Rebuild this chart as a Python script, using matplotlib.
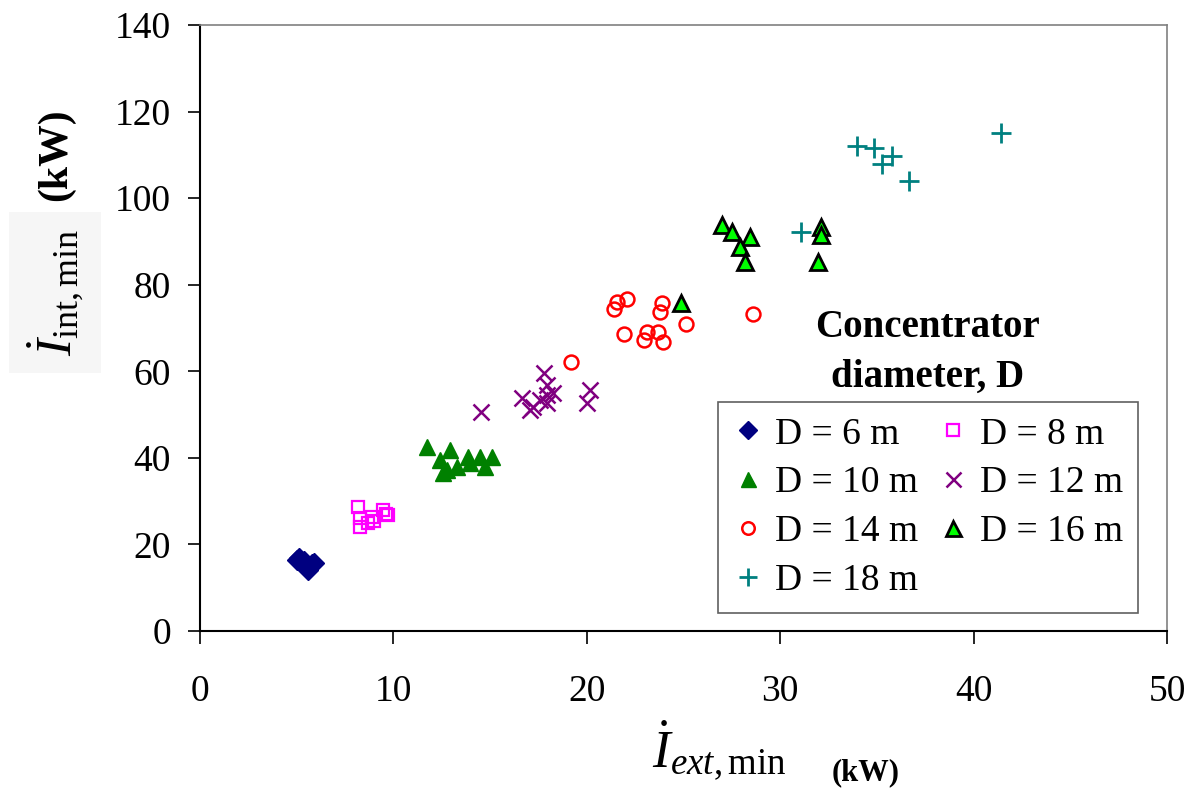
import matplotlib.pyplot as plt

plt.rcParams['font.family'] = ['Liberation Serif', 'DejaVu Serif']
plt.rcParams['mathtext.fontset'] = 'custom'
plt.rcParams['mathtext.rm'] = 'Liberation Serif'
plt.rcParams['mathtext.it'] = 'Liberation Serif:italic'
plt.rcParams['mathtext.bf'] = 'Liberation Serif:bold'

d6_x = [5.0, 5.2, 5.3, 5.5, 5.6, 5.8, 5.1, 5.4, 5.7, 5.9]
d6_y = [16.5, 16.0, 15.5, 15.0, 14.0, 15.5, 16.8, 16.2, 15.0, 15.8]

d8_x = [8.19, 8.27, 8.88, 9.48, 9.74, 8.27, 8.70, 9.0, 9.6]
d8_y = [28.7, 26.0, 26.4, 27.9, 26.8, 24.1, 24.9, 25.5, 27.0]

d10_x = [11.75, 12.93, 12.41, 13.87, 14.48, 15.08, 12.76, 13.27, 13.96, 14.74, 12.58]
d10_y = [42.4, 41.8, 39.5, 40.3, 40.3, 40.1, 37.2, 38.0, 38.7, 38.0, 36.4]

d12_x = [14.51, 16.63, 17.79, 17.93, 17.23, 17.58, 17.93, 18.27, 17.93, 17.06, 20.17, 19.99]
d12_y = [50.7, 53.8, 59.5, 56.8, 51.8, 53.4, 54.5, 54.9, 52.6, 51.1, 55.7, 52.6]

d14_x = [21.55, 22.06, 21.41, 23.89, 23.78, 21.92, 23.09, 23.70, 22.97, 23.93, 25.14, 28.61, 19.17]
d14_y = [76.1, 76.7, 74.3, 75.7, 73.8, 68.6, 69.1, 69.1, 67.2, 66.8, 70.9, 73.2, 62.1]

d16_x = [26.97, 27.49, 28.44, 27.92, 28.18, 32.09, 32.09, 31.97, 24.87]
d16_y = [93.8, 92.2, 91.1, 88.8, 85.3, 93.4, 91.5, 85.3, 75.7]

d18_x = [33.95, 34.85, 35.77, 35.25, 36.68, 41.40, 31.06]
d18_y = [112.0, 111.5, 109.7, 108.0, 104.0, 115.0, 92.1]

fig = plt.figure(figsize=(11.99, 7.97), dpi=100)
ax = fig.add_axes([200 / 1199, 1 - 631 / 797, 967 / 1199, 606 / 797])

h6, = ax.plot(d6_x, d6_y, 'D', color='#000080', ms=10, ls='none', label='D = 6 m')
h8, = ax.plot(d8_x, d8_y, 's', mfc='none', mec='#FF00FF', mew=1.6, ms=9, ls='none', label='D = 8 m')
h10, = ax.plot(d10_x, d10_y, '^', color='#008000', ms=12, ls='none', label='D = 10 m')
h12, = ax.plot(d12_x, d12_y, 'x', color='#800080', mew=1.8, ms=12, ls='none', label='D = 12 m')
h14, = ax.plot(d14_x, d14_y, 'o', mfc='none', mec='#FF0000', mew=1.8, ms=10, ls='none', label='D = 14 m')
h16, = ax.plot(d16_x, d16_y, '^', mfc='#00FF00', mec='black', mew=2, ms=12, ls='none', label='D = 16 m')
h18, = ax.plot(d18_x, d18_y, '+', color='#008080', mew=2, ms=14, ls='none', label='D = 18 m')

ax.set_xlim(0, 50)
ax.set_ylim(0, 140)
ax.set_xticks(range(0, 51, 10))
ax.set_yticks(range(0, 141, 20))
ax.tick_params(axis='both', labelsize=27, direction='out', length=9, width=1.2)
ax.tick_params(axis='x', pad=22)
ax.tick_params(axis='y', pad=12)
for s in ['left', 'bottom']:
    ax.spines[s].set_linewidth(1.5)
for s in ['top', 'right']:
    ax.spines[s].set_color('#808080')
    ax.spines[s].set_linewidth(1.2)

# Legende zeilenweise wie im Original
handles = [h6, h10, h14, h18, h8, h12, h16]
leg = ax.legend(handles=handles, ncol=2, loc='lower right', bbox_to_anchor=(0.97, 0.03),
                borderaxespad=0, fontsize=27, fancybox=False, edgecolor='#606060',
                framealpha=1, handlelength=0.8, handletextpad=0.3, columnspacing=0.55,
                labelspacing=0.38, borderpad=0.4, markerscale=0.9)
leg.get_frame().set_linewidth(1.2)

ax.text(0.752, 0.485, 'Concentrator', transform=ax.transAxes, ha='center',
        va='baseline', fontsize=28, fontweight='bold')
ax.text(0.752, 0.403, 'diameter, D', transform=ax.transAxes, ha='center',
        va='baseline', fontsize=28, fontweight='bold')

# Achsenbeschriftungen
fig.text(0.544, 0.036, r'$\dot{I}_{ext,\mathrm{min}}$', fontsize=38, ha='left', va='baseline')
fig.text(0.694, 0.021, '(kW)', fontsize=22, fontweight='bold', ha='left', va='baseline')
fig.text(0.046, 0.633, r'$\dot{I}_{\mathrm{int,min}}$', fontsize=37, rotation=90, ha='center',
         va='center', bbox=dict(facecolor='#f6f6f6', edgecolor='none', pad=12))
fig.text(0.047, 0.806, '(kW)', fontsize=30, fontweight='bold', rotation=90, ha='center', va='center')

fig.savefig('out.png', dpi=100)
